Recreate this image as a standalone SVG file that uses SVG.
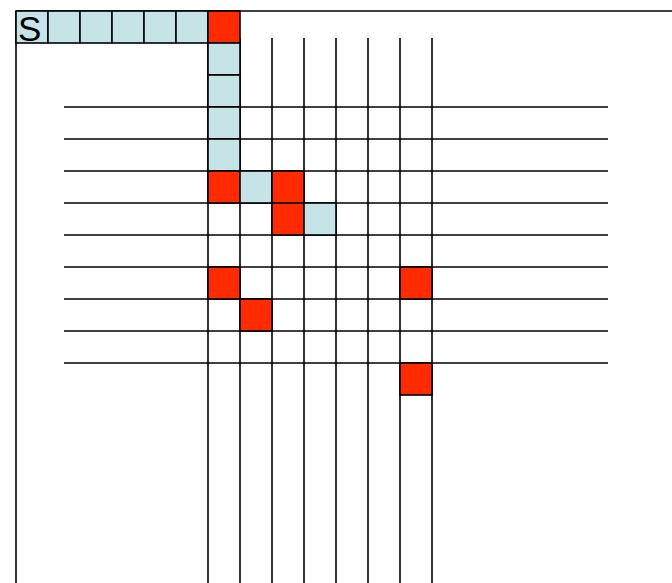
<svg xmlns="http://www.w3.org/2000/svg" width="672" height="583" viewBox="0 0 672 583">
<style>
.ln{stroke:#000;stroke-width:1.6;fill:none}
.b{fill:#c6e4e8;stroke:#000;stroke-width:1.6}
.r{fill:#ff2a00;stroke:#000;stroke-width:1.6}
.t{font-family:"Liberation Sans",Arial,sans-serif;font-size:35px;fill:#000}
</style>
<rect width="672" height="583" fill="#fff"/>
<g id="grid">
<path class="ln" d="M16 11H672M16 11V583"/>
<path class="ln" d="M64 107H608M64 139H608M64 171H608M64 203H608M64 235H608M64 267H608M64 299H608M64 331H608M64 363H608"/>
<path class="ln" d="M208 38V583M240 38V583M272 38V583M304 38V583M336 38V583M368 38V583M400 38V583M432 38V583"/>
</g>
<g id="path-cells">
<g id="cS"><rect class="b" x="16" y="11" width="32" height="32"/><text class="t" x="18" y="40.5">S</text></g>
<rect id="c1" class="b" x="48" y="11" width="32" height="32"/>
<rect id="c2" class="b" x="80" y="11" width="32" height="32"/>
<rect id="c3" class="b" x="112" y="11" width="32" height="32"/>
<rect id="c4" class="b" x="144" y="11" width="32" height="32"/>
<rect id="c5" class="b" x="176" y="11" width="32" height="32"/>
<rect id="c6" class="r" x="208" y="11" width="32" height="32"/>
<rect id="c7" class="b" x="208" y="43" width="32" height="32"/>
<rect id="c8" class="b" x="208" y="75" width="32" height="32"/>
<rect id="c9" class="b" x="208" y="107" width="32" height="32"/>
<rect id="c10" class="b" x="208" y="139" width="32" height="32"/>
<rect id="c11" class="r" x="208" y="171" width="32" height="32"/>
<rect id="c12" class="b" x="240" y="171" width="32" height="32"/>
<rect id="c13" class="r" x="272" y="171" width="32" height="32"/>
<rect id="c14" class="r" x="272" y="203" width="32" height="32"/>
<rect id="c15" class="b" x="304" y="203" width="32" height="32"/>
</g>
<g id="red-cells">
<rect id="r1" class="r" x="208" y="267" width="32" height="32"/>
<rect id="r2" class="r" x="240" y="299" width="32" height="32"/>
<rect id="r3" class="r" x="400" y="267" width="32" height="32"/>
<rect id="r4" class="r" x="400" y="363" width="32" height="32"/>
</g>
</svg>
